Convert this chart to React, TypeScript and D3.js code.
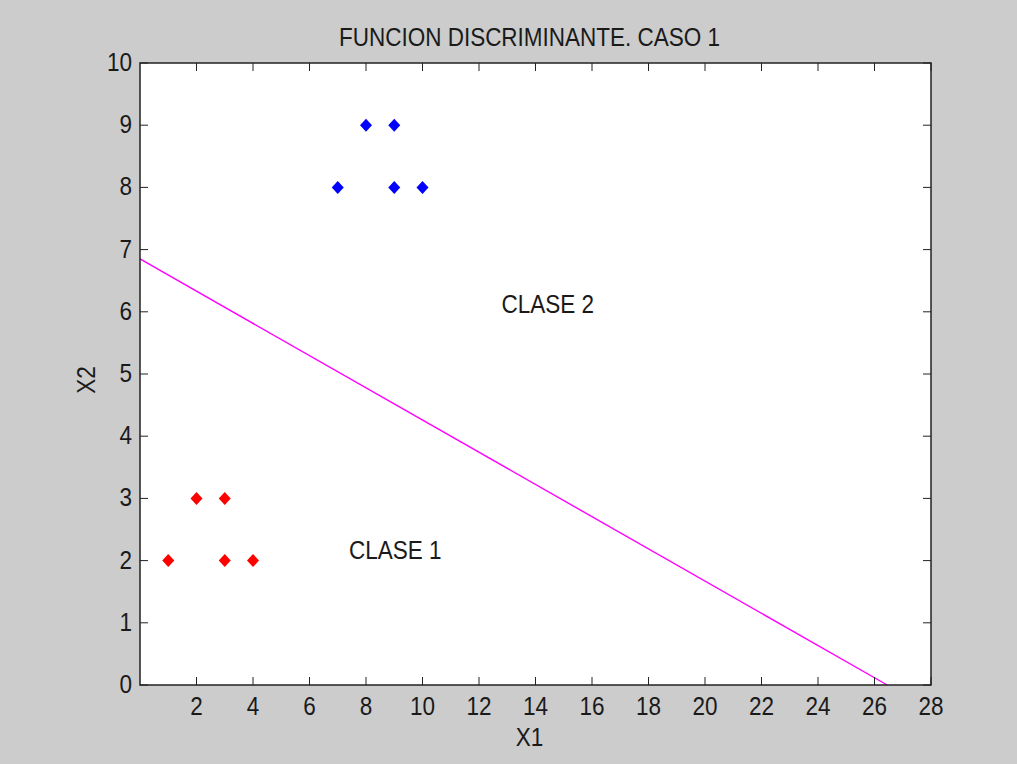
import React from "react";
import * as d3 from "d3";

const class1X = [2, 3, 1, 3, 4];
const class1Y = [3, 3, 2, 2, 2];
const class2X = [8, 9, 7, 9, 10];
const class2Y = [9, 9, 8, 8, 8];
const lineX = [0, 26.45];
const lineY = [6.85, 0];
const xTicks = [2, 4, 6, 8, 10, 12, 14, 16, 18, 20, 22, 24, 26, 28];
const yTicks = [0, 1, 2, 3, 4, 5, 6, 7, 8, 9, 10];
const labels = [
  { text: "CLASE 2", x: 12.8, y: 6.12 },
  { text: "CLASE 1", x: 7.4, y: 2.17 },
];

const W = 1017, H = 764;
const L = 140, R = 931, T = 63, B = 685;
const FS = 22.5;
const SY = 1.13;
const FONT = "'Liberation Sans', Arial, sans-serif";

function T2({ x, y, anchor = "middle", rotate = 0, children, fs = FS }: any) {
  return (
    <text
      transform={`translate(${x},${y}) rotate(${rotate}) scale(1,${SY})`}
      textAnchor={anchor}
      dominantBaseline="central"
      fontFamily={FONT}
      fontSize={fs}
      fill="#1a1a1a"
    >
      {children}
    </text>
  );
}

export default function App() {
  const x = d3.scaleLinear().domain([0, 28]).range([L, R]);
  const y = d3.scaleLinear().domain([0, 10]).range([B, T]);
  const diamond = "M0,-6.5L6,0L0,6.5L-6,0Z";
  const line = d3.line<number>().x((_, i) => x(lineX[i])).y((_, i) => y(lineY[i]));
  const tk = 8;
  return (
    <svg width={W} height={H} style={{ position: "absolute", left: 0, top: 0, display: "block" }}>
      <rect x={0} y={0} width={W} height={H} fill="#cccccc" />
      <rect x={L} y={T} width={R - L} height={B - T} fill="#ffffff" />
      <path d={line(lineX) as string} stroke="#ff00ff" strokeWidth={1.4} fill="none" />
      {class1X.map((v, i) => (
        <path key={"r" + i} d={diamond} transform={`translate(${x(v)},${y(class1Y[i])})`} fill="#ff0000" />
      ))}
      {class2X.map((v, i) => (
        <path key={"b" + i} d={diamond} transform={`translate(${x(v)},${y(class2Y[i])})`} fill="#0000ff" />
      ))}
      {xTicks.map((t) => (
        <g key={"xt" + t}>
          <line x1={x(t)} x2={x(t)} y1={B} y2={B - tk} stroke="#222" strokeWidth={1} />
          <line x1={x(t)} x2={x(t)} y1={T} y2={T + tk} stroke="#222" strokeWidth={1} />
          <T2 x={x(t)} y={B + 21}>{t}</T2>
        </g>
      ))}
      {yTicks.map((t) => (
        <g key={"yt" + t}>
          <line x1={L} x2={L + tk} y1={y(t)} y2={y(t)} stroke="#222" strokeWidth={1} />
          <line x1={R} x2={R - tk} y1={y(t)} y2={y(t)} stroke="#222" strokeWidth={1} />
          <T2 x={L - 8} y={y(t) - 1} anchor="end">{t}</T2>
        </g>
      ))}
      <rect x={L} y={T} width={R - L} height={B - T} fill="none" stroke="#222" strokeWidth={1.5} />
      {labels.map((l) => (
        <T2 key={l.text} x={x(l.x)} y={y(l.y)} anchor="start">{l.text}</T2>
      ))}
      <T2 x={(L + R) / 2 - 6} y={37}>FUNCION DISCRIMINANTE. CASO 1</T2>
      <T2 x={(L + R) / 2 - 6} y={737}>X1</T2>
      <T2 x={86} y={(T + B) / 2 + 6} rotate={-90}>X2</T2>
    </svg>
  );
}
